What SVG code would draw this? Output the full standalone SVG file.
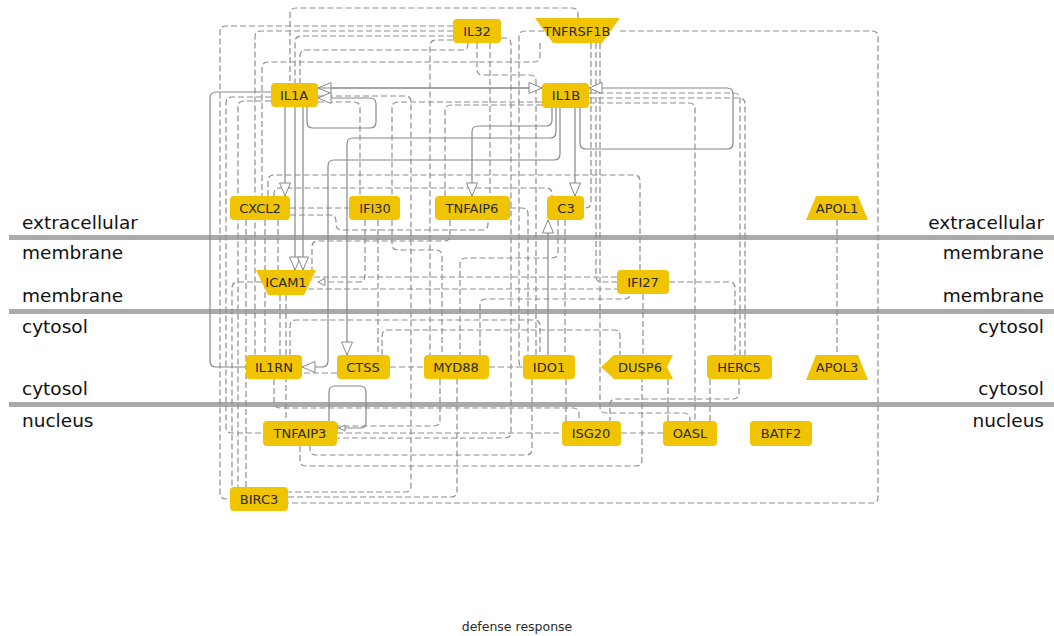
<svg xmlns="http://www.w3.org/2000/svg" width="1054" height="636" viewBox="0 0 1054 636">
<style>
.d{fill:none;stroke:#8e8e8e;stroke-width:1.2;stroke-dasharray:6,3}
.s{fill:none;stroke:#888888;stroke-width:1.2}
.n{fill:#f0c400}
.t{font-family:"DejaVu Sans",sans-serif;font-size:13px;fill:#2a2a2a;text-anchor:middle}
.c{font-family:"DejaVu Sans",sans-serif;font-size:18.5px;fill:#111}
.r{text-anchor:end}
.bar{fill:#aaaaaa}
</style>
<defs>
<marker id="arr" markerWidth="16" markerHeight="14" refX="14" refY="6" orient="auto" markerUnits="userSpaceOnUse"><path d="M1,0.5 L14,6 L1,11.5 z" fill="#fff" stroke="#888888"/></marker>
<marker id="sm" markerWidth="10" markerHeight="10" refX="8" refY="4" orient="auto" markerUnits="userSpaceOnUse"><path d="M1,0.5 L8,4 L1,7.5 z" fill="#fff" stroke="#888888"/></marker>
<marker id="tee" markerWidth="12" markerHeight="12" refX="9" refY="5" orient="auto" markerUnits="userSpaceOnUse"><path d="M1,2 L7,5 L1,8 z M9,0 V10" fill="#fff" stroke="#888888"/></marker>
</defs>
<rect width="1054" height="636" fill="#fff"/>
<g id="compartments">
<rect class="bar" x="9" y="235" width="1045" height="5"/>
<rect class="bar" x="9" y="309" width="1045" height="5"/>
<rect class="bar" x="9" y="402" width="1045" height="5"/>
<text class="c" x="22" y="229">extracellular</text>
<text class="c" x="22" y="259">membrane</text>
<text class="c" x="22" y="302">membrane</text>
<text class="c" x="22" y="333">cytosol</text>
<text class="c" x="22" y="395">cytosol</text>
<text class="c" x="22" y="427">nucleus</text>
<text class="c r" x="1044" y="229">extracellular</text>
<text class="c r" x="1044" y="259">membrane</text>
<text class="c r" x="1044" y="302">membrane</text>
<text class="c r" x="1044" y="333">cytosol</text>
<text class="c r" x="1044" y="395">cytosol</text>
<text class="c r" x="1044" y="427">nucleus</text>
</g>
<g id="connectors">
<path class="d" d="M620 31 H872 Q878 31 878 37 V497 Q878 503 872 503 H288"/>
<path class="d" d="M578 18 V14 Q578 8 572 8 H296 Q290 8 290 14 V83"/>
<path class="d" d="M453 26 H226 Q220 26 220 32 V493 Q220 499 226 499 H230"/>
<path class="d" d="M453 31 H261 Q255 31 255 37 V355"/>
<path class="d" d="M453 36 H301 Q295 36 295 42 V83"/>
<path class="d" d="M453 40 H436 Q430 40 430 46 V355"/>
<path class="d" d="M468 43 V44 Q468 50 462 50 H306 Q300 50 300 56 V83"/>
<path class="d" d="M540 43 V56 Q540 62 534 62 H268 Q262 62 262 68 V196"/>
<path class="d" d="M477 43 V69 Q477 75 483 75 H530 Q536 75 536 81 V355"/>
<path class="d" d="M591 43 V202 Q591 208 585 208 H584"/>
<path class="d" d="M596 43 V276 Q596 282 602 282 H617"/>
<path class="d" d="M600 43 V407 Q600 413 606 413 H684 Q690 413 690 419 V421"/>
<path class="d" d="M501 38 H505 Q511 38 511 44 V432 Q511 438 505 438 H337"/>
<path class="d" d="M544 31 H525 Q519 31 519 37 V361 Q519 367 523 367"/>
<path class="d" d="M271 97 H232 Q226 97 226 103 V427 Q226 433 232 433 H263"/>
<path class="d" d="M271 101 H244 Q238 101 238 107 V487"/>
<path class="d" d="M318 96 H405 Q411 96 411 102 V486 Q411 492 405 492 H288"/>
<path class="d" d="M288 497 H451 Q457 497 457 491 V379"/>
<path class="d" d="M246 220 V487"/>
<path class="d" d="M265 220 V355"/>
<path class="d" d="M278 220 V270"/>
<path class="d" d="M290 208 H349"/>
<path class="d" d="M268 196 V181 Q268 175 274 175 H634 Q640 175 640 181 V270"/>
<path class="d" d="M274 196 V194 Q274 188 280 188 H546 Q552 188 552 194 V196"/>
<path class="d" d="M290 215 H330 Q336 215 336 221 V224 Q336 230 342 230 H482 Q488 230 488 224 V220"/>
<path class="d" d="M378 220 V355"/>
<path class="d" d="M392 220 V244 Q392 250 398 250 H436 Q442 250 442 256 V355"/>
<path class="d" d="M510 208 H522 Q528 208 528 214 V355"/>
<path class="d" d="M450 220 V235 Q450 241 444 241 H318 Q312 241 312 247 V270"/>
<path class="d" d="M365 220 V276 Q365 282 359 282 H318" marker-end="url(#sm)"/>
<path class="d" d="M314 277 H617"/>
<path class="d" d="M308 289 H617"/>
<path class="d" d="M280 295 V355"/>
<path class="d" d="M286 295 V421"/>
<path class="d" d="M262 282 H238 Q232 282 232 288 V487"/>
<path class="d" d="M565 220 V355"/>
<path class="d" d="M558 220 V252 Q558 258 552 258 H466 Q460 258 460 264 V355"/>
<path class="d" d="M643 294 V355"/>
<path class="d" d="M290 355 V326 Q290 320 296 320 H534 Q540 320 540 326 V355"/>
<path class="d" d="M382 355 V336 Q382 330 388 330 H614 Q620 330 620 336 V355"/>
<path class="d" d="M489 367 H523"/>
<path class="d" d="M480 355 V305 Q480 299 486 299 H624 Q630 299 630 294"/>
<path class="d" d="M337 373 H302"/>
<path class="d" d="M390 367 H424"/>
<path class="d" d="M274 379 V402 Q274 408 280 408 H573 Q579 408 579 414 V421"/>
<path class="d" d="M440 379 V420 Q440 426 434 426 H337"/>
<path class="d" d="M566 379 V421"/>
<path class="d" d="M532 379 V449 Q532 455 526 455 H316 Q310 455 310 449 V446"/>
<path class="d" d="M668 379 V421"/>
<path class="d" d="M300 446 V460 Q300 466 306 466 H636 Q642 466 642 460 V379"/>
<path class="d" d="M337 433 H562"/>
<path class="d" d="M621 433 H663"/>
<path class="d" d="M710 379 V421"/>
<path class="d" d="M739 379 V393 Q739 399 733 399 H616 Q610 399 610 405 V421"/>
<path class="d" d="M669 282 H729 Q735 282 735 288 V355"/>
<path class="d" d="M589 93 H734 Q740 93 740 99 V355"/>
<path class="d" d="M589 98 H739 Q745 98 745 104 V355"/>
<path class="d" d="M589 103 H689 Q695 103 695 109 V421"/>
<path class="d" d="M837 220 V355"/>
<path class="d" d="M318 102 H354 Q360 102 360 108 V196"/>
<path class="d" d="M490 43 V196"/>
<path class="d" d="M542 102 H398 Q392 102 392 108 V196"/>
<path class="d" d="M542 105 H451 Q445 105 445 111 V196"/>
<path class="s" d="M542 88 H318" marker-end="url(#arr)"/>
<path class="s" d="M318 88 H542" marker-end="url(#arr)"/>
<path class="s" d="M307 107 V122 Q307 128 313 128 H370 Q376 128 376 122 V104 Q376 98 370 98 H318" marker-end="url(#arr)"/>
<path class="s" d="M580 108 V143 Q580 149 586 149 H727 Q733 149 733 143 V94 Q733 88 727 88 H589" marker-end="url(#arr)"/>
<path class="s" d="M285 107 V196" marker-end="url(#arr)"/>
<path class="s" d="M295 107 V270" marker-end="url(#arr)"/>
<path class="s" d="M303 107 V270" marker-end="url(#arr)"/>
<path class="s" d="M556 108 V132 Q556 138 550 138 H353 Q347 138 347 144 V355" marker-end="url(#arr)"/>
<path class="s" d="M560 108 V154 Q560 160 554 160 H334 Q328 160 328 166 V361 Q328 367 322 367 H302" marker-end="url(#arr)"/>
<path class="s" d="M552 108 V120 Q552 126 546 126 H478 Q472 126 472 132 V196" marker-end="url(#arr)"/>
<path class="s" d="M575 108 V196" marker-end="url(#arr)"/>
<path class="s" d="M271 92 H216 Q210 92 210 98 V361 Q210 367 216 367 H246"/>
<path class="s" d="M548 355 V220" marker-end="url(#arr)"/>
<path class="s" d="M329 421 V392 Q329 386 335 386 H360 Q366 386 366 392 V422 Q366 428 360 428 H337" marker-end="url(#tee)"/>
</g>
<g id="IL32"><rect class="n" x="453" y="19" width="48" height="24" rx="4"/><text class="t" x="477" y="36">IL32</text></g>
<g id="TNFRSF1B"><polygon class="n" points="535,18 620,18 602,43 553,43"/><text class="t" x="577" y="36">TNFRSF1B</text></g>
<g id="IL1A"><rect class="n" x="271" y="83" width="47" height="24" rx="4"/><text class="t" x="294" y="100">IL1A</text></g>
<g id="IL1B"><rect class="n" x="542" y="83" width="47" height="25" rx="4"/><text class="t" x="566" y="100">IL1B</text></g>
<g id="CXCL2"><rect class="n" x="230" y="196" width="60" height="24" rx="4"/><text class="t" x="260" y="213">CXCL2</text></g>
<g id="IFI30"><rect class="n" x="349" y="196" width="51" height="24" rx="4"/><text class="t" x="375" y="213">IFI30</text></g>
<g id="TNFAIP6"><rect class="n" x="435" y="196" width="75" height="24" rx="4"/><text class="t" x="472" y="213">TNFAIP6</text></g>
<g id="C3"><rect class="n" x="547" y="196" width="37" height="24" rx="4"/><text class="t" x="566" y="213">C3</text></g>
<g id="APOL1"><polygon class="n" points="816,196 858,196 868,220 806,220"/><text class="t" x="837" y="213">APOL1</text></g>
<g id="ICAM1"><polygon class="n" points="256,270 316,270 304,295 268,295"/><text class="t" x="286" y="287">ICAM1</text></g>
<g id="IFI27"><rect class="n" x="617" y="270" width="52" height="24" rx="4"/><text class="t" x="643" y="287">IFI27</text></g>
<g id="IL1RN"><rect class="n" x="246" y="355" width="56" height="24" rx="4"/><text class="t" x="274" y="372">IL1RN</text></g>
<g id="CTSS"><rect class="n" x="337" y="355" width="53" height="24" rx="4"/><text class="t" x="363" y="372">CTSS</text></g>
<g id="MYD88"><rect class="n" x="424" y="355" width="65" height="24" rx="4"/><text class="t" x="456" y="372">MYD88</text></g>
<g id="IDO1"><rect class="n" x="523" y="355" width="52" height="24" rx="4"/><text class="t" x="549" y="372">IDO1</text></g>
<g id="DUSP6"><polygon class="n" points="601,367 614,355 673,355 667,367 673,379 614,379"/><text class="t" x="640" y="372">DUSP6</text></g>
<g id="HERC5"><rect class="n" x="707" y="355" width="65" height="24" rx="4"/><text class="t" x="739" y="372">HERC5</text></g>
<g id="APOL3"><polygon class="n" points="816,355 858,355 868,380 806,380"/><text class="t" x="837" y="372">APOL3</text></g>
<g id="TNFAIP3"><rect class="n" x="263" y="421" width="74" height="25" rx="4"/><text class="t" x="300" y="438">TNFAIP3</text></g>
<g id="ISG20"><rect class="n" x="562" y="421" width="59" height="25" rx="4"/><text class="t" x="591" y="438">ISG20</text></g>
<g id="OASL"><rect class="n" x="663" y="421" width="54" height="25" rx="4"/><text class="t" x="690" y="438">OASL</text></g>
<g id="BATF2"><rect class="n" x="750" y="421" width="62" height="25" rx="4"/><text class="t" x="781" y="438">BATF2</text></g>
<g id="BIRC3"><rect class="n" x="230" y="487" width="58" height="24" rx="4"/><text class="t" x="259" y="504">BIRC3</text></g>
<text class="t" x="517" y="631" style="font-size:12.5px">defense response</text>
</svg>
